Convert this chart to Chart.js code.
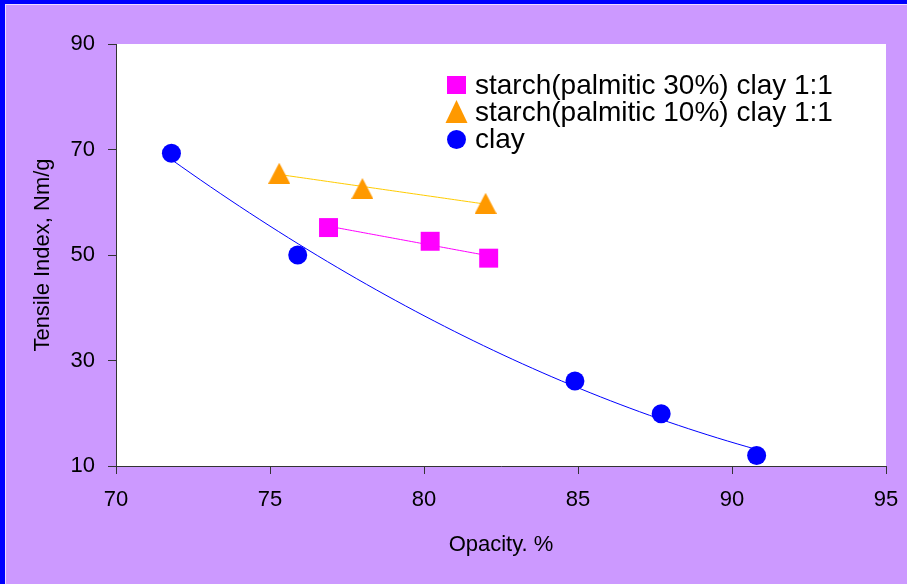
<!DOCTYPE html>
<html><head><meta charset="utf-8">
<script src="https://cdn.jsdelivr.net/npm/chart.js@4.4.1/dist/chart.umd.min.js"></script>
<style>
html,body{margin:0;padding:0;background:#0000FF;width:907px;height:584px;overflow:hidden}
#bg{position:absolute;left:5px;top:4px;width:902px;height:580px;background:#CC99FF;border-left:1px solid #EEDDFF;border-top:1px solid #EEDDFF;box-sizing:border-box}
#wrap{position:absolute;left:0;top:0;width:907px;height:584px}
</style></head><body><div id="bg"></div><div id="wrap"><canvas id="c"></canvas></div>
<script>
// ---- data ----
const clayX = [71.8, 75.9, 84.9, 87.7, 90.8];
const clayY = [69.3, 50.0, 26.1, 19.9, 12.0];
const p10X = [75.3, 78.0, 82.0];
const p10Y = [65.5, 62.6, 59.8];
const p30X = [76.9, 80.2, 82.1];
const p30Y = [55.2, 52.6, 49.4];
const xTicks = [70, 75, 80, 85, 90, 95];
const yTicks = [10, 30, 50, 70, 90];
const seriesNames = ['starch(palmitic 30%) clay 1:1', 'starch(palmitic 10%) clay 1:1', 'clay'];
const xTitle = 'Opacity. %';
const yTitle = 'Tensile Index, Nm/g';

// least-squares polynomial trendline (as in the original spreadsheet chart)
function polyfit(xs, ys, deg) {
  const n = deg + 1;
  const A = [], b = [];
  for (let i = 0; i < n; i++) {
    A.push([]);
    for (let j = 0; j < n; j++) A[i].push(xs.reduce((s, x) => s + Math.pow(x, i + j), 0));
    b.push(xs.reduce((s, x, k) => s + ys[k] * Math.pow(x, i), 0));
  }
  for (let i = 0; i < n; i++) {
    let p = i;
    for (let r = i + 1; r < n; r++) if (Math.abs(A[r][i]) > Math.abs(A[p][i])) p = r;
    [A[i], A[p]] = [A[p], A[i]]; [b[i], b[p]] = [b[p], b[i]];
    for (let r = i + 1; r < n; r++) {
      const f = A[r][i] / A[i][i];
      for (let c = i; c < n; c++) A[r][c] -= f * A[i][c];
      b[r] -= f * b[i];
    }
  }
  const co = new Array(n).fill(0);
  for (let i = n - 1; i >= 0; i--) {
    let s = b[i];
    for (let c = i + 1; c < n; c++) s -= A[i][c] * co[c];
    co[i] = s / A[i][i];
  }
  return co;
}
function trend(xs, ys, deg) {
  const co = polyfit(xs, ys, deg);
  const lo = Math.min(...xs), hi = Math.max(...xs);
  const out = [];
  const N = 60;
  for (let k = 0; k <= N; k++) {
    const x = lo + (hi - lo) * k / N;
    let y = 0;
    for (let i = 0; i < co.length; i++) y += co[i] * Math.pow(x, i);
    out.push({x, y});
  }
  return out;
}
const pts = (xs, ys) => xs.map((x, i) => ({x, y: ys[i]}));

const FONT = 'Liberation Sans, Arial, sans-serif';

// triangle marker centred on its bounding box (spreadsheet style)
function triangleMarker(w, h, color) {
  const c = document.createElement('canvas');
  c.width = w; c.height = h;
  const g = c.getContext('2d');
  g.fillStyle = color;
  g.beginPath();
  g.moveTo(w / 2, 0); g.lineTo(w, h); g.lineTo(0, h); g.closePath();
  g.fill();
  return c;
}
const triImg = triangleMarker(22, 21, '#FF9900');

const bgPlugin = {
  id: 'plotbg',
  beforeDraw(chart) {
    const {ctx, chartArea: a} = chart;
    ctx.save();
    ctx.fillStyle = '#FFFFFF';
    ctx.fillRect(a.left, a.top, a.right - a.left, a.bottom - a.top);
    ctx.restore();
  }
};

const legendPlugin = {
  id: 'innerLegend',
  afterDraw(chart) {
    const {ctx} = chart;
    const items = [
      {style: 'rect', color: '#FF00FF', y: 85},
      {style: 'triangle', color: '#FF9900', y: 112},
      {style: 'circle', color: '#0000FF', y: 139.5}
    ];
    ctx.save();
    items.forEach((it, i) => {
      const cx = 456.5, cy = it.y;
      ctx.fillStyle = it.color;
      ctx.beginPath();
      if (it.style === 'rect') ctx.rect(cx - 9.5, cy - 9, 19, 18);
      else if (it.style === 'triangle') { ctx.moveTo(cx, cy - 12); ctx.lineTo(cx + 11, cy + 11); ctx.lineTo(cx - 11, cy + 11); ctx.closePath(); }
      else ctx.arc(cx, cy, 9.5, 0, Math.PI * 2);
      ctx.fill();
      ctx.fillStyle = '#000000';
      ctx.font = '28px ' + FONT;
      ctx.textBaseline = 'middle';
      ctx.textAlign = 'left';
      ctx.fillText(seriesNames[i], 475, cy + 1);
    });
    ctx.restore();
  }
};

new Chart(document.getElementById('c'), {
  type: 'scatter',
  data: {
    datasets: [
      {label: 'trend30', type: 'line', data: trend(p30X, p30Y, 1), borderColor: '#FF00FF', borderWidth: 1, pointRadius: 0, fill: false, order: 5},
      {label: 'trend10', type: 'line', data: trend(p10X, p10Y, 1), borderColor: '#FFCC00', borderWidth: 1, pointRadius: 0, fill: false, order: 5},
      {label: 'trendClay', type: 'line', data: trend(clayX, clayY, 2), borderColor: '#0000FF', borderWidth: 1, pointRadius: 0, fill: false, order: 5},
      {label: seriesNames[0], data: pts(p30X, p30Y), pointStyle: 'rect', pointRadius: 13.4, backgroundColor: '#FF00FF', borderColor: '#FF00FF', borderWidth: 0, order: 1},
      {label: seriesNames[1], data: pts(p10X, p10Y), pointStyle: triImg, pointRadius: 11, backgroundColor: '#FF9900', borderColor: '#FF9900', borderWidth: 0, order: 1},
      {label: seriesNames[2], data: pts(clayX, clayY), pointStyle: 'circle', pointRadius: 9.5, backgroundColor: '#0000FF', borderColor: '#0000FF', borderWidth: 0, order: 1}
    ]
  },
  options: {
    responsive: true,
    maintainAspectRatio: false,
    animation: false,
    layout: {padding: {top: 44, right: 21, left: 0, bottom: 0}},
    plugins: {legend: {display: false}, tooltip: {enabled: false}},
    scales: {
      x: {
        type: 'linear', min: xTicks[0], max: xTicks[xTicks.length - 1],
        afterBuildTicks(s) { s.ticks = xTicks.map(v => ({value: v})); },
        afterFit(s) { s.height = 118; s.paddingRight = 0; s.paddingLeft = 0; },
        grid: {drawOnChartArea: false, drawTicks: true, tickLength: 8, color: '#333333'},
        border: {color: '#333333', width: 1},
        ticks: {color: '#000000', font: {family: FONT, size: 22}, padding: 13, maxRotation: 0},
        title: {display: true, text: xTitle, color: '#000000', font: {family: FONT, size: 22}, padding: {top: 0, bottom: 26}}
      },
      y: {
        type: 'linear', min: yTicks[0], max: yTicks[yTicks.length - 1],
        afterBuildTicks(s) { s.ticks = yTicks.map(v => ({value: v})); },
        afterFit(s) { s.width = 116; s.paddingTop = 0; s.paddingBottom = 0; },
        grid: {drawOnChartArea: false, drawTicks: true, tickLength: 8, color: '#333333'},
        border: {color: '#333333', width: 1},
        ticks: {color: '#000000', font: {family: FONT, size: 22}, padding: 13},
        title: {display: true, text: yTitle, color: '#000000', font: {family: FONT, size: 22}, padding: {top: 30, bottom: 0}}
      }
    }
  },
  plugins: [bgPlugin, legendPlugin]
});
</script></body></html>
